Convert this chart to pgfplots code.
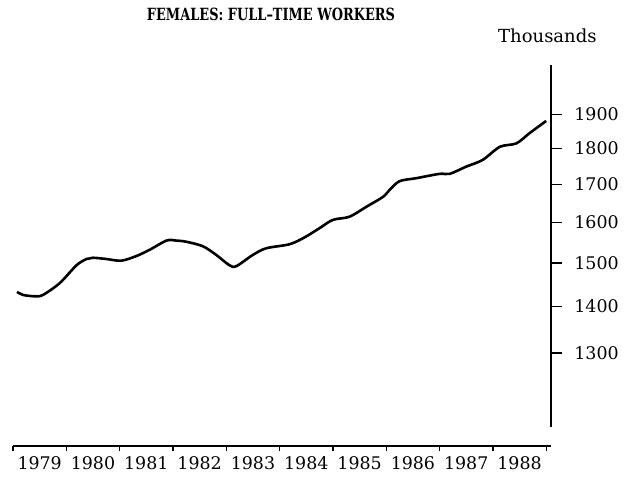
\documentclass[border=0pt]{standalone}
\usepackage{fontspec}
\setmainfont{DejaVu Serif}
\usepackage{pgfplots}
\pgfplotsset{compat=1.18}
\begin{document}
\begin{tikzpicture}
\path[use as bounding box] (0,0) rectangle (317.5pt,238pt);
% title and unit
\node[font=\bfseries\fontsize{8.4}{10}\selectfont, anchor=base, inner sep=0pt] at (135.5pt,227.5pt) {\scalebox{0.77}[1]{FEMALES: FULL--TIME WORKERS}};
\node[font=\fontsize{9}{10}\selectfont, anchor=base] at (273.7pt,216.5pt) {Thousands};
% data and right y axis
\begin{axis}[
  at={(6.5pt,24.5pt)}, anchor=south west,
  scale only axis, width=269pt, height=181pt,
  xmin=1979, xmax=1989.09,
  ymode=log, ymin=1156, ymax=2056,
  axis x line=none, axis y line=right,
  axis line style={-, line width=0.7pt},
  ytick={1300,1400,1500,1600,1700,1800,1900},
  yticklabels={1300,1400,1500,1600,1700,1800,1900},
  minor ytick={}, 
  tick align=outside, major tick length=5.5pt,
  tick style={line width=0.7pt, black},
  yticklabel style={font=\fontsize{8.7}{10}\selectfont, anchor=west, inner sep=0pt, xshift=6pt},
  clip=false,
]
\addplot[black, line width=1.3pt, smooth, tension=0.5] coordinates {
(1979.075,1433) (1979.19,1426) (1979.41,1423) (1979.56,1426) (1979.875,1453)
(1980.19,1495) (1980.38,1510) (1980.5,1513) (1980.75,1510) (1981.03,1506)
(1981.31,1517) (1981.56,1532) (1981.88,1555) (1982.06,1555) (1982.25,1552)
(1982.56,1541) (1982.81,1520) (1983.06,1495) (1983.19,1493) (1983.5,1520)
(1983.75,1536) (1984.19,1546) (1984.47,1563) (1984.75,1586) (1985.0,1607) (1985.31,1615)
(1985.63,1641) (1985.94,1667) (1986.06,1685) (1986.25,1709) (1986.56,1717)
(1987.0,1729) (1987.19,1729) (1987.5,1749) (1987.81,1768) (1988.13,1805)
(1988.44,1815) (1988.69,1845) (1989.0,1881)
};
\end{axis}
% bottom x axis
\begin{axis}[
  at={(6.5pt,15pt)}, anchor=south west,
  scale only axis, width=269pt, height=2pt,
  xmin=1979, xmax=1989.09, ymin=0, ymax=1,
  axis x line=bottom, axis y line=none,
  axis line style={-, line width=0.7pt},
  xtick={1979,1980,...,1989},
  x tick label as interval,
  xticklabels={1979,1980,1981,1982,1983,1984,1985,1986,1987,1988},
  tick align=outside, major tick length=2.5pt,
  tick style={line width=0.7pt, black},
  xticklabel style={font=\fontsize{8.7}{10}\selectfont, anchor=north, inner sep=0pt, yshift=-2.5pt},
]
\addplot[draw=none] coordinates {(1980,0.5)};
\end{axis}
\end{tikzpicture}
\end{document}
